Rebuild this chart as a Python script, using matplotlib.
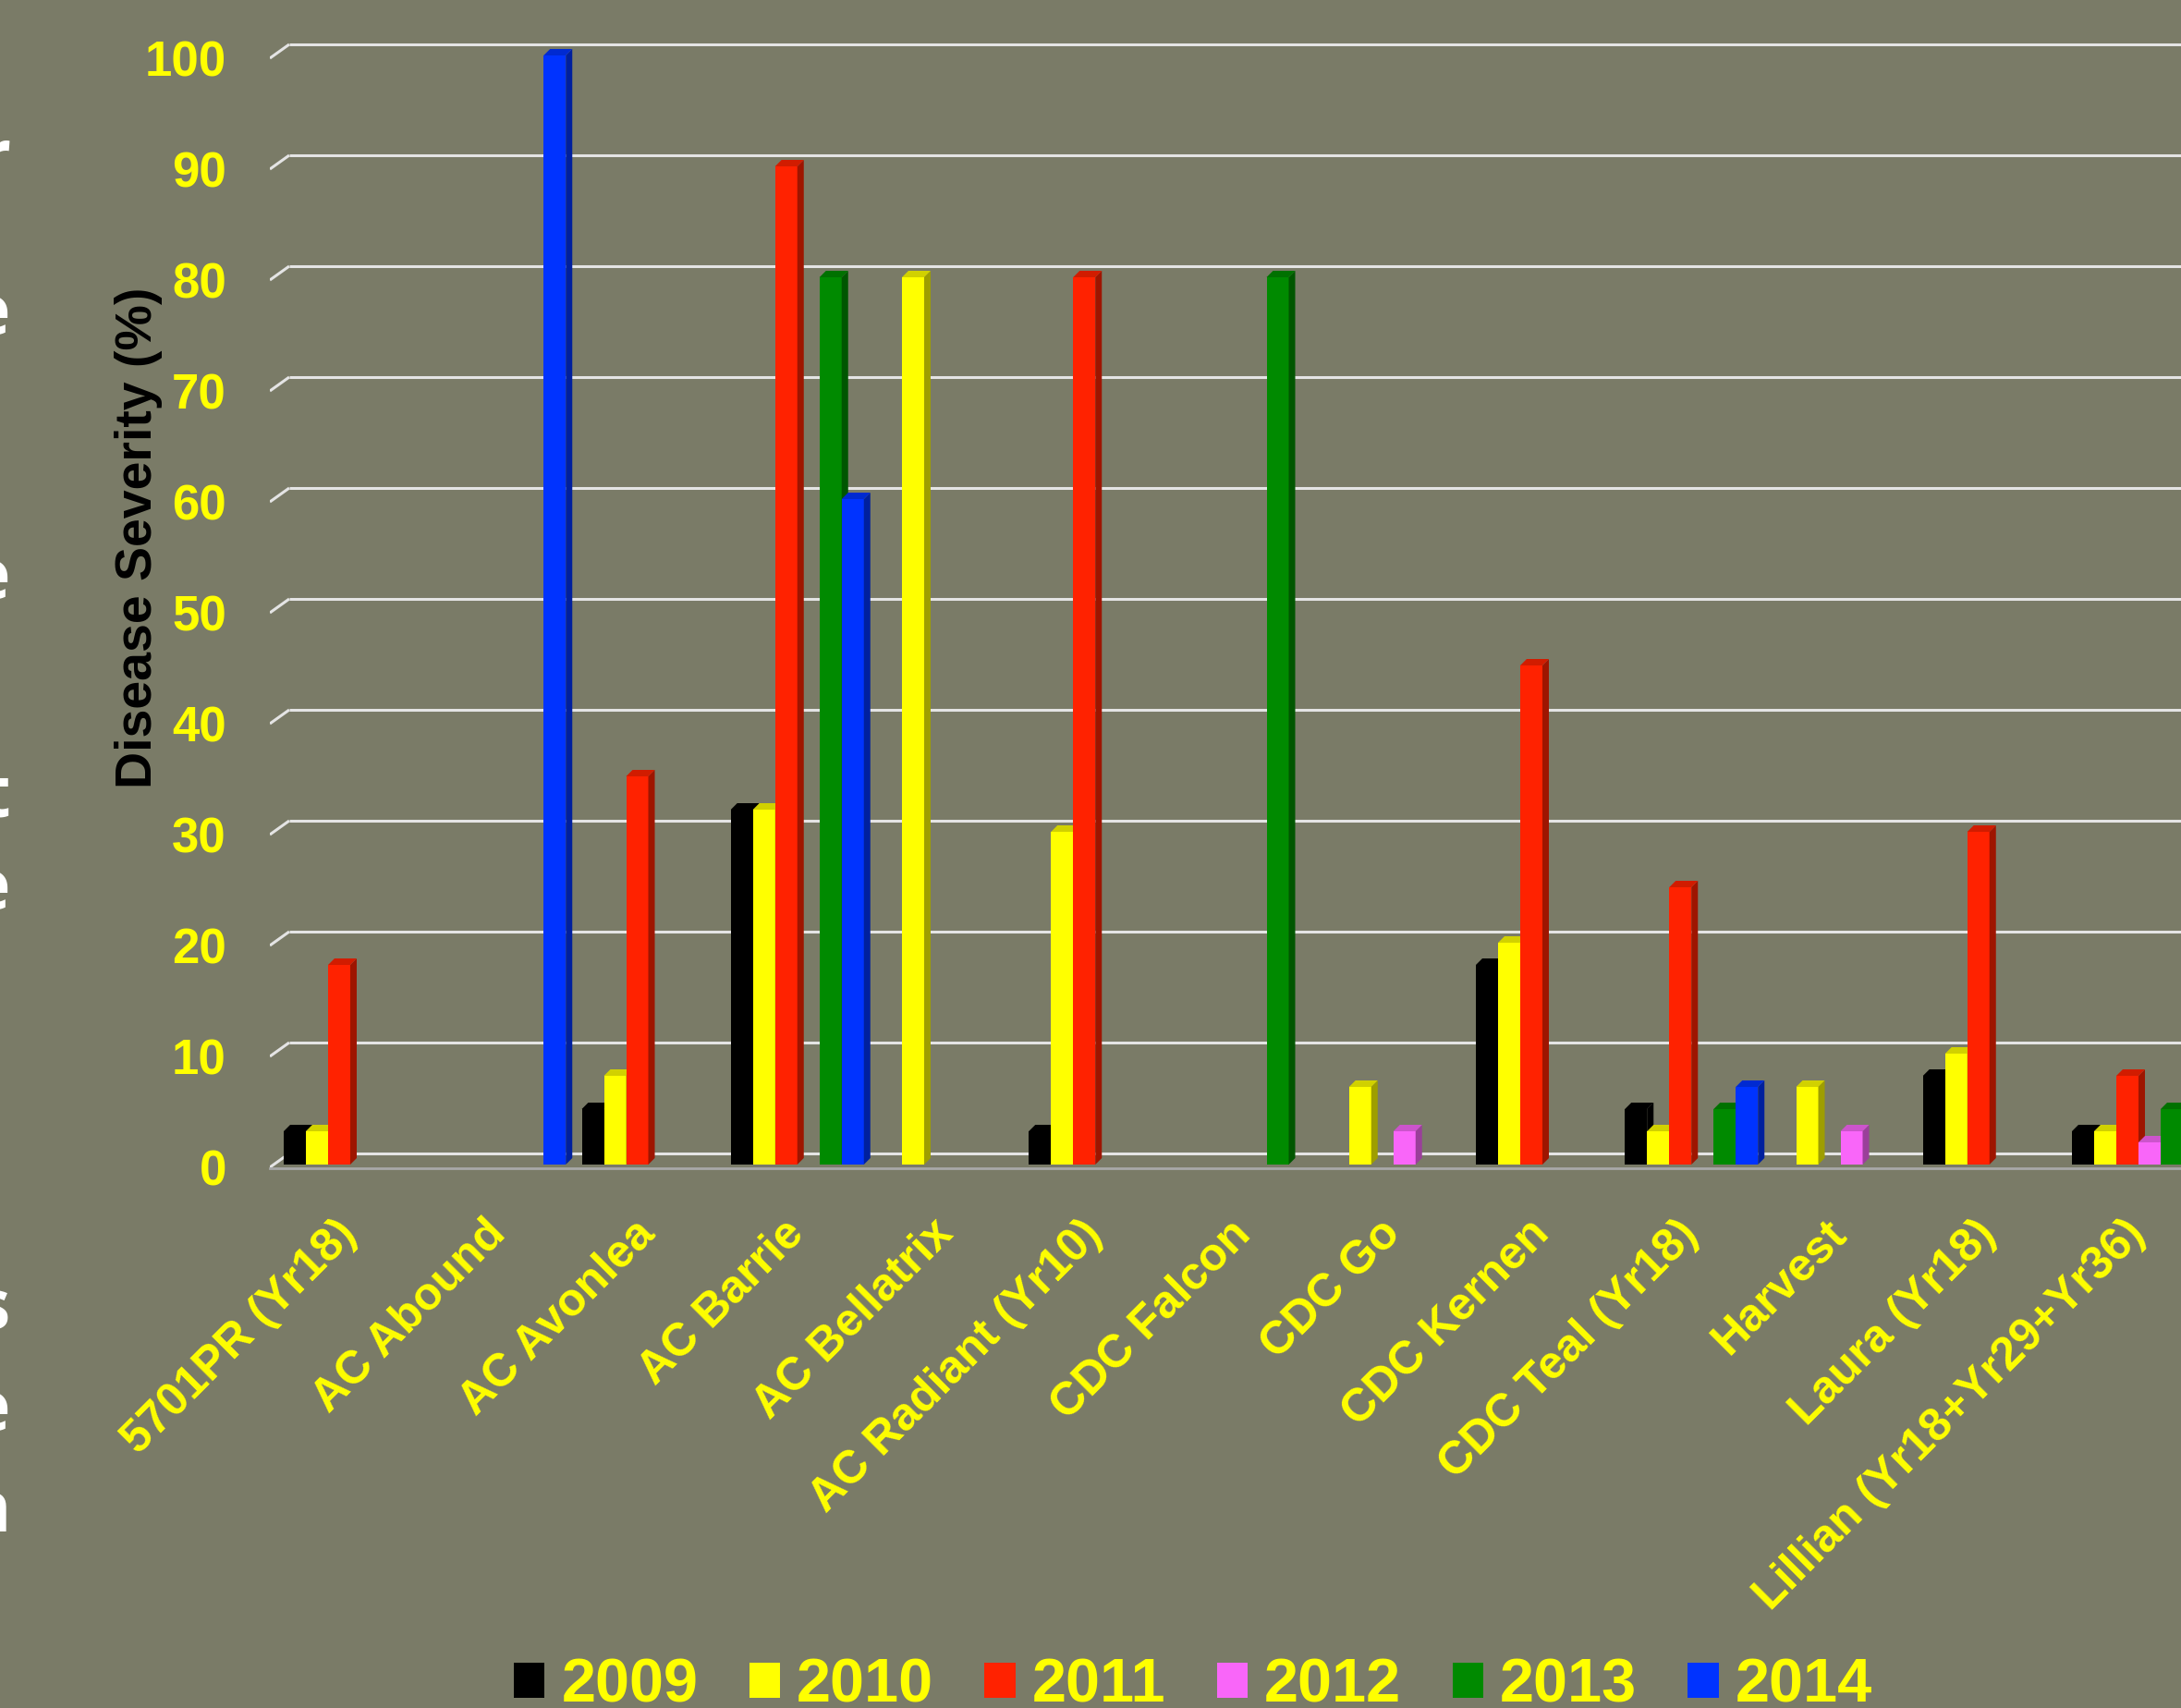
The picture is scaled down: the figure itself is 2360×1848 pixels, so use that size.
import matplotlib
matplotlib.use("Agg")
import matplotlib.pyplot as plt
from matplotlib.patches import Polygon, Patch
import matplotlib.colors as mcolors

# ---------------- data ----------------
categories = ["5701PR (Yr18)", "AC Abound", "AC Avonlea", "AC Barrie", "AC Bellatrix",
              "AC Radiant (Yr10)", "CDC Falcon", "CDC Go", "CDC Kernen", "CDC Teal (Yr18)",
              "Harvest", "Laura (Yr18)", "Lillian (Yr18+Yr29+Yr36)"]
years = ["2009", "2010", "2011", "2012", "2013", "2014"]
s2009 = [3, 0, 5, 32, 0, 3, 0, 0, 18, 5, 0, 8, 3]
s2010 = [3, 0, 8, 32, 80, 30, 0, 7, 20, 3, 7, 10, 3]
s2011 = [18, 0, 35, 90, 0, 80, 0, 0, 45, 25, 0, 30, 8]
s2012 = [0, 0, 0, 0, 0, 0, 0, 3, 0, 0, 3, 0, 2]
s2013 = [0, 0, 0, 80, 0, 0, 80, 0, 0, 5, 0, 0, 5]
s2014 = [0, 100, 0, 60, 0, 0, 0, 0, 0, 7, 0, 0, 0]
yticks = list(range(0, 101, 10))
side_letters = ["r", "e", "e", "t", "e", "s", "e", "n"]

series = [s2009, s2010, s2011, s2012, s2013, s2014]
colors = ["#000000", "#ffff00", "#ff2200", "#f966f9", "#008a00", "#0033ff"]

BG = "#7a7b67"
GRID = "#e4e4e4"
FLOOR = "#a8a8a8"
YEL = "#ffff00"

# ---------------- layout (pixels) ----------------
W, H = 2360, 1848
AX_L, AX_TOP, AX_BOT = 292, 40, 1264
CAT0 = 379            # center of first category
CAT_PX = 161.25       # category pitch
BAR_PX = 24
UNIT_PX = 12.0        # pixels per 1 % (front plane)
ZERO_PX = 1260        # front-plane zero
DEPTH_PX = 7
GRID_DX = 21

fig = plt.figure(figsize=(W / 100, H / 100), dpi=100)
fig.patch.set_facecolor(BG)
ax = fig.add_axes([AX_L / W, (H - AX_BOT) / H, (W - AX_L) / W, (AX_BOT - AX_TOP) / H])
ax.set_facecolor(BG)

xl = -(CAT0 - AX_L) / CAT_PX
xr = (W - CAT0) / CAT_PX
ax.set_xlim(xl, xr)
ax.set_ylim(-(AX_BOT - ZERO_PX) / UNIT_PX, (ZERO_PX - AX_TOP) / UNIT_PX)

bw = BAR_PX / CAT_PX
ddx = DEPTH_PX / CAT_PX
ddy = DEPTH_PX / UNIT_PX
gdx = GRID_DX / CAT_PX
stub_lo = -(AX_BOT - 1 - ZERO_PX) / UNIT_PX   # front end of gridline stub
stub_hi = 12 / UNIT_PX                        # back plane offset in value units

# gridlines with 3D stubs
for v in yticks:
    ax.plot([xl, xl + gdx], [v + stub_lo, v + stub_hi], color=GRID, lw=2.2,
            zorder=1, solid_capstyle="butt")
    ax.plot([xl + gdx, xr], [v + stub_hi, v + stub_hi], color=GRID, lw=2.2,
            zorder=1, solid_capstyle="butt")


def shade(c, f):
    r, g, b = mcolors.to_rgb(c)
    return (r * f, g * f, b * f)


for i in range(len(categories)):
    for j, vals in enumerate(series):
        v = vals[i]
        if v <= 0:
            continue
        z = 3 + (i * 6 + j) * 0.01
        xc = i + (j - 2.5) * bw
        col = colors[j]
        ax.bar(xc, v, width=bw, color=col, zorder=z, linewidth=0)
        x0, x1 = xc - bw / 2, xc + bw / 2
        ax.add_patch(Polygon([(x1, 0), (x1 + ddx, ddy), (x1 + ddx, v + ddy), (x1, v)],
                             closed=True, facecolor=shade(col, 0.62), edgecolor="none", zorder=z))
        ax.add_patch(Polygon([(x0, v), (x1, v), (x1 + ddx, v + ddy), (x0 + ddx, v + ddy)],
                             closed=True, facecolor=shade(col, 0.82), edgecolor="none", zorder=z))

# spines
for s in ["top", "right", "left"]:
    ax.spines[s].set_visible(False)
ax.spines["bottom"].set_color(FLOOR)
ax.spines["bottom"].set_linewidth(2)
ax.spines["bottom"].set_zorder(2)

# y ticks
ax.set_yticks([v + stub_lo for v in yticks])
ax.set_yticklabels([str(v) for v in yticks], color=YEL, fontsize=38,
                   fontweight="bold", family="Liberation Sans")
ax.tick_params(axis="y", length=0, pad=34)

# x ticks
ax.set_xticks(range(len(categories)))
ax.set_xticklabels(categories, rotation=45, ha="right", va="center",
                   rotation_mode="anchor", color=YEL, fontsize=36,
                   fontweight="bold", family="Liberation Sans")
ax.tick_params(axis="x", length=0, pad=46)

# y label
fig.text(150 / W, (H - 582) / H, "Disease Severity (%)", rotation=90, ha="center",
         va="center", fontsize=40, fontweight="bold", color="black",
         family="Liberation Sans")

# legend
handles = [Patch(facecolor=c, edgecolor="none") for c in colors]
leg = fig.legend(handles, years, loc="center", bbox_to_anchor=(0.547, 0.0125), ncol=6,
                 frameon=False, handlelength=0.5, handleheight=0.5,
                 handletextpad=0.27, columnspacing=0.83,
                 prop={"family": "Liberation Sans", "weight": "bold", "size": 48})
for t in leg.get_texts():
    t.set_color(YEL)

# partially visible white letters on the left edge (title cut off by the frame)
baselines = [194, 361, 648, 883, 983, 1437, 1547, 1657]
for ch, yb in zip(side_letters, baselines):
    fig.text(11 / W, (H - yb) / H, ch, ha="right", va="baseline", fontsize=54,
             fontweight="bold", color="white", family="Open Sans")

fig.savefig("out.png", dpi=100, facecolor=BG)
